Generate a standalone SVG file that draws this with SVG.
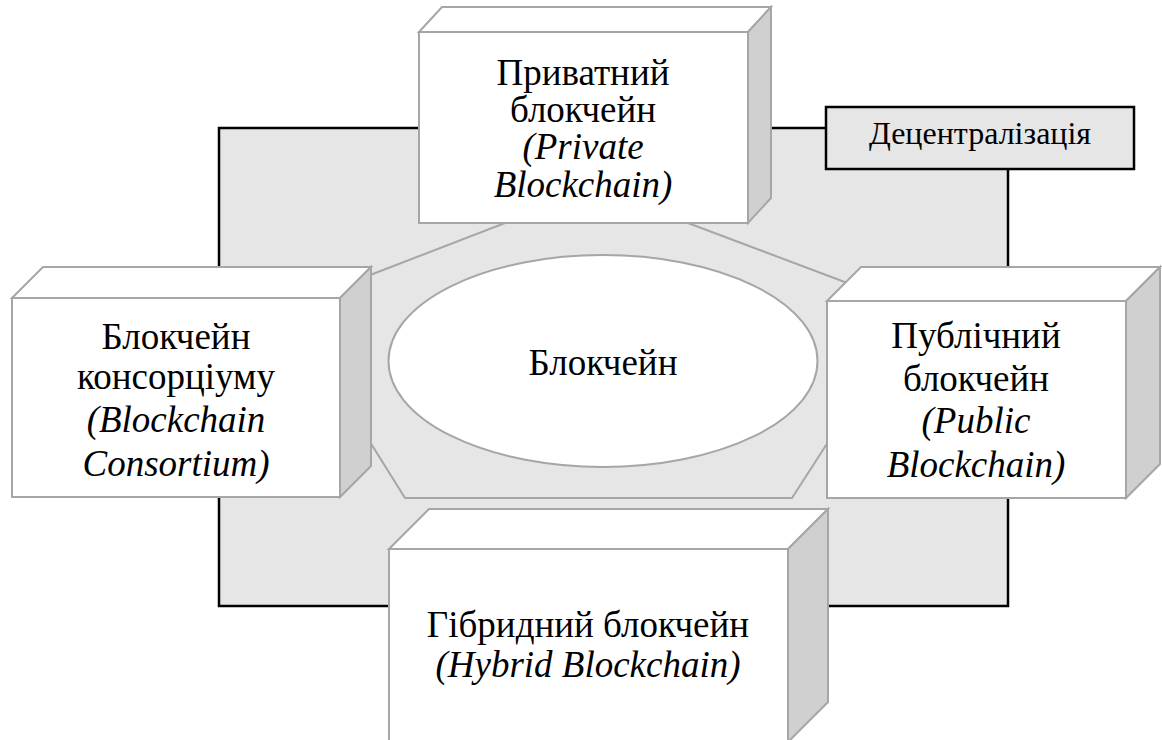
<svg xmlns="http://www.w3.org/2000/svg" width="1162" height="740" viewBox="0 0 1162 740">
  <style>
    .panel { fill: #e6e6e6; stroke: #000; stroke-width: 2.5; }
    .oct { fill: #e6e6e6; stroke: #a6a6a6; stroke-width: 2; }
    .core { fill: #fff; stroke: #a6a6a6; stroke-width: 2; }
    .front { fill: #fff; stroke: #a6a6a6; stroke-width: 2; stroke-linejoin: miter; }
    .top { fill: #fff; stroke: #a6a6a6; stroke-width: 2; }
    .side { fill: #d0d0d0; stroke: #a6a6a6; stroke-width: 2; }
    text { font-family: "Liberation Serif", serif; fill: #000; text-anchor: middle; }
    .lbl { font-size: 37px; }
    .it { font-size: 37px; font-style: italic; }
    .small { font-size: 32px; }
  </style>

  <!-- background panel -->
  <rect class="panel" x="219" y="128" width="789" height="478"/>

  <!-- decentralisation tag -->
  <g id="decentralization">
    <rect class="panel" x="826" y="107" width="308" height="62"/>
    <text class="small" x="980" y="144">Децентралізація</text>
  </g>

  <!-- central octagon with ellipse -->
  <g id="core">
    <polygon class="oct" points="505,223 688,223 850,284 850,408 792,498 405,498 365,434 365,277"/>
    <ellipse class="core" cx="603" cy="361" rx="214.5" ry="106"/>
    <text class="lbl" x="603" y="375">Блокчейн</text>
  </g>

  <!-- private -->
  <g id="private">
    <polygon class="top" points="419,32 442,7 771,7 748,32"/>
    <polygon class="side" points="748,32 771,7 771,198 748,223"/>
    <rect class="front" x="419" y="32" width="329" height="191"/>
    <text class="lbl" x="583" y="85">Приватний</text>
    <text class="lbl" x="583" y="122">блокчейн</text>
    <text class="it" x="583" y="159">(Private</text>
    <text class="it" x="583" y="197">Blockchain)</text>
  </g>

  <!-- consortium -->
  <g id="consortium">
    <polygon class="top" points="12,298 43,267 371,267 340,298"/>
    <polygon class="side" points="340,298 371,267 371,466 340,497"/>
    <rect class="front" x="12" y="298" width="328" height="199"/>
    <text class="lbl" x="176" y="349">Блокчейн</text>
    <text class="lbl" x="176" y="389">консорціуму</text>
    <text class="it" x="176" y="432">(Blockchain</text>
    <text class="it" x="176" y="476">Consortium)</text>
  </g>

  <!-- public -->
  <g id="public">
    <polygon class="top" points="827,301 861,267 1160,267 1126,301"/>
    <polygon class="side" points="1126,301 1160,267 1160,464 1126,498"/>
    <rect class="front" x="827" y="301" width="299" height="197"/>
    <text class="lbl" x="976" y="348">Публічний</text>
    <text class="lbl" x="976" y="391">блокчейн</text>
    <text class="it" x="976" y="433">(Public</text>
    <text class="it" x="976" y="477">Blockchain)</text>
  </g>

  <!-- hybrid -->
  <g id="hybrid">
    <polygon class="top" points="389,549 429,509 828,509 788,549"/>
    <polygon class="side" points="788,549 828,509 828,702 788,742"/>
    <rect class="front" x="389" y="549" width="399" height="193"/>
    <text class="lbl" x="588" y="637">Гібридний блокчейн</text>
    <text class="it" x="588" y="677">(Hybrid Blockchain)</text>
  </g>

  <g id="connectors"/>
</svg>
